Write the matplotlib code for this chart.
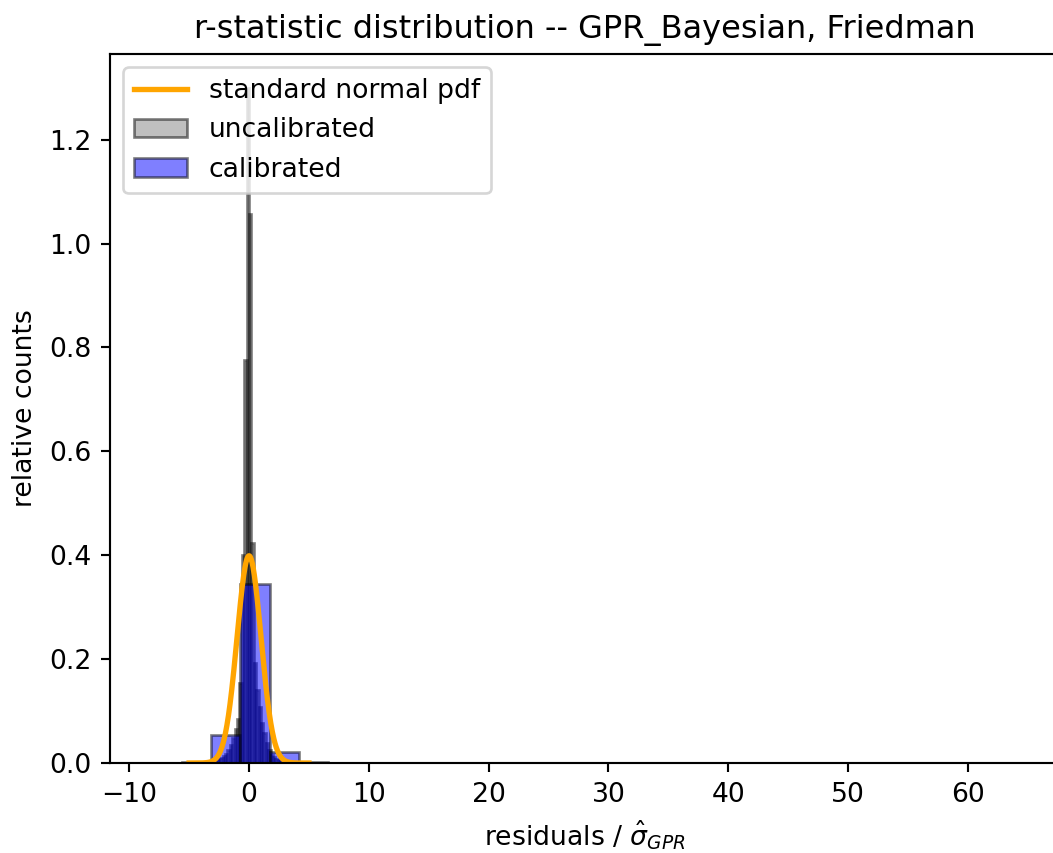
import matplotlib
matplotlib.use("Agg")
import matplotlib.pyplot as plt
import numpy as np

# uncalibrated r-statistic histogram (density), bins of width 0.2 on [-8, 64]
uncal_lo = -8.0
uncal_hi = 64.0
uncal_nbins = 360
# heights of the non-empty bins, first one starts at -3.2 (all others are 0)
uncal_start = -3.2
uncal_heights = [0.003, 0.004, 0.006, 0.008, 0.010, 0.013, 0.018, 0.025,
                 0.035, 0.048, 0.065, 0.085, 0.154, 0.400, 0.776, 1.300,
                 1.056, 0.424, 0.192, 0.140, 0.108, 0.077, 0.058, 0.038,
                 0.025, 0.016, 0.011, 0.008, 0.005, 0.004, 0.003, 0.002]

# calibrated r-statistic histogram (density)
cal_edges = [-5.61, -3.17, -0.73, 1.71, 4.15, 6.59]
cal_heights = [0.001, 0.054, 0.344, 0.022, 0.001]

# range of the reference standard normal curve
pdf_lo, pdf_hi = -5.0, 5.0

uncal_edges = np.linspace(uncal_lo, uncal_hi, uncal_nbins + 1)
bw = (uncal_hi - uncal_lo) / uncal_nbins
uncal_w = np.zeros(uncal_nbins)
i0 = int(round((uncal_start - uncal_lo) / bw))
uncal_w[i0:i0 + len(uncal_heights)] = uncal_heights
uncal_centers = uncal_edges[:-1] + bw / 2

cal_edges = np.array(cal_edges)
cal_centers = (cal_edges[:-1] + cal_edges[1:]) / 2

xs = np.linspace(pdf_lo, pdf_hi, 400)
pdf = np.exp(-xs**2 / 2) / np.sqrt(2 * np.pi)

fig = plt.figure(figsize=(1053 / 192, 853 / 192), dpi=192)
ax = fig.add_axes([0.1045, 0.1055, 0.9012, 0.8312])

ax.plot(xs, pdf, color="orange", lw=2, label="standard normal pdf")
ax.hist(uncal_centers, bins=uncal_edges, weights=uncal_w, color="gray",
        alpha=0.5, edgecolor="black", label="uncalibrated")
ax.hist(cal_centers, bins=cal_edges, weights=cal_heights, color="blue",
        alpha=0.5, edgecolor="black", label="calibrated")

ax.set_title("r-statistic distribution -- GPR_Bayesian, Friedman")
ax.set_xlabel(r"residuals / $\hat{\sigma}_{GPR}$")
ax.set_ylabel("relative counts")
ax.legend(loc="upper left")

fig.savefig("out.png", dpi=192)
